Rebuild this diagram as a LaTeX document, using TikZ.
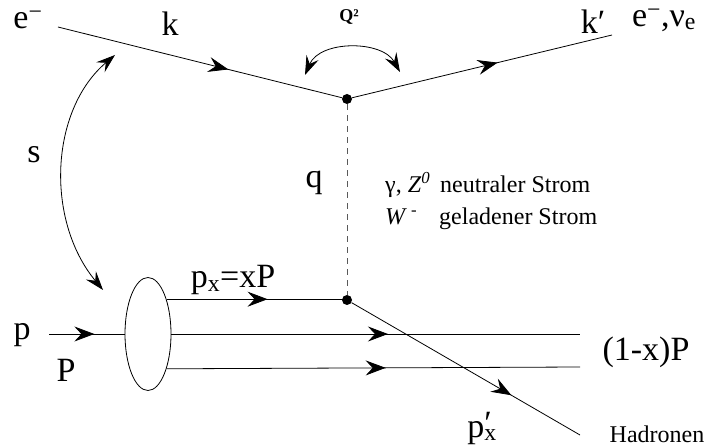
\documentclass[tikz,border=0pt]{standalone}
\usepackage{fontspec}
\setmainfont{Liberation Serif}
\newfontfamily\tms{Liberation Serif}
\usetikzlibrary{shapes.geometric, arrows.meta, decorations.markings, positioning}

\begin{document}
\begin{tikzpicture}[
    x=1pt, y=-1pt,
    line/.style={draw, line width=0.8pt},
    midarrow/.style={postaction={decorate}, decoration={markings, mark=at position #1 with {\arrow{Stealth[length=20pt, width=15pt, inset=7pt]}}}},
    twoway/.style={line, {Stealth[length=19pt, width=13pt, inset=7pt]}-{Stealth[length=19pt, width=13pt, inset=7pt]}},
    vertex/.style={circle, fill, inner sep=0pt, minimum size=10pt},
    blob/.style={ellipse, draw, line width=0.8pt, minimum width=46pt, minimum height=113pt, inner sep=0pt},
    lbl/.style={font=\tms\fontsize{34}{38}\selectfont, inner sep=0pt},
    small/.style={font=\tms\fontsize{24}{28}\selectfont, inner sep=0pt}
]
    \useasboundingbox (0,0) rectangle (704,446);

    % Vertices and end points
    \coordinate (ein) at (58,27);
    \coordinate (eout) at (612,35);
    \node (top) [vertex] at (347,99) {};
    \node (bot) [vertex] at (347,300) {};
    \coordinate (pin) at (49,334);
    \node (proton) [blob] at (148,334) {};
    \coordinate (rest1) at (580,334);
    \coordinate (rest2) at (580,367);
    \coordinate (hadr) at (580,435);

    % Lines
    \path [line, midarrow=0.6] (ein) -- (top);
    \path [line, midarrow=0.56] (top) -- (eout);
    \path [line, dashed, dash pattern=on 6pt off 5pt, gray!70!black] (top) -- (bot);
    \path [line, midarrow=0.6] (pin) -- (proton.west);
    \path [line, midarrow=0.56] (proton.62) -- (proton.62 -| bot);
    \path [line, midarrow=0.53] (proton.east) -- (rest1);
    \path [line, midarrow=0.53] (proton.-62) -- (rest2);
    \path [line, midarrow=0.7] (bot) -- (hadr);

    % Curved arrows
    \coordinate (q2a) at (305,75);
    \coordinate (q2b) at (400,72);
    \draw [twoway] (q2a) .. controls (320,40) and (382,40) .. (q2b);
    \coordinate (sa) at (115,55);
    \coordinate (sb) at (103,290);
    \draw [twoway] (sa) .. controls (50,110) and (45,220) .. (sb);

    % Labels
    \node (elab) [lbl] at (28,20) {e\textsuperscript{−}};
    \node (klab) [lbl] at (170,24) {k};
    \node (q2lab) [font=\tms\fontsize{18}{20}\selectfont\bfseries, inner sep=0pt] at (349,17) {Q²};
    \node (kplab) [lbl] at (593,22) {k′};
    \node (eolab) [lbl] at (664,20) {e\textsuperscript{−},ν\textsubscript{e}};
    \node (slab) [lbl] at (34,155) {s};
    \node (qlab) [lbl] at (314,183) {q};
    \node (gz) [small, anchor=base west] at (385,193) {γ, \textit{Z}\textsuperscript{\itshape 0}};
    \node (neutral) [small, anchor=base west] at (440,193) {neutraler Strom};
    \node (wlab) [small, anchor=base west] at (385,225) {\textit{W}\,\textsuperscript{-}};
    \node (charged) [small, anchor=base west] at (439,225) {geladener Strom};
    \node (plab) [lbl] at (22,335) {p};
    \node (Plab) [lbl] at (66,370) {P};
    \node (pxlab) [lbl] at (233,280) {p\textsubscript{x}=xP};
    \node (restlab) [lbl] at (646,352) {(1-x)P};
    \node (pxplab) [lbl] at (482,428) {p\rlap{\raisebox{3pt}{′}}\textsubscript{x}};
    \node (hlab) [small, font=\tms\fontsize{24}{26}\selectfont] at (657,434) {Hadronen};
\end{tikzpicture}
\end{document}
